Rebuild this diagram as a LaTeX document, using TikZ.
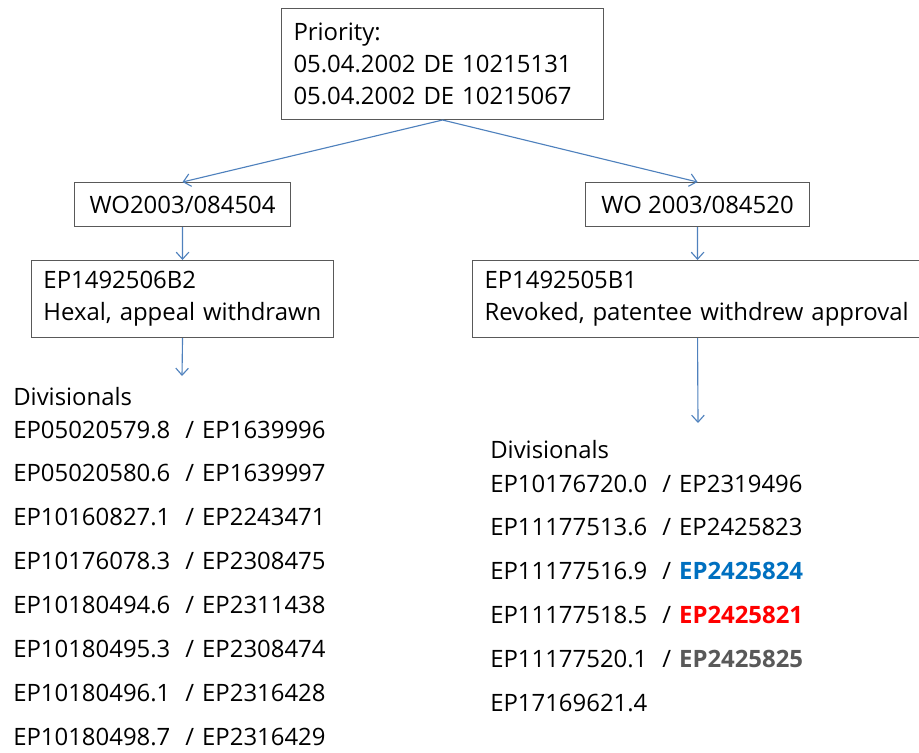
\documentclass[tikz,border=0pt]{standalone}
\usepackage{fontspec}
\setmainfont{Open Sans}
\usetikzlibrary{positioning, arrows.meta}
\definecolor{lineBlue}{HTML}{4F81BD}
\definecolor{borderGray}{HTML}{595959}
\definecolor{textBlue}{HTML}{0070C0}
\definecolor{textRed}{HTML}{FF0000}
\definecolor{textGray}{HTML}{595959}

\begin{document}
\begin{tikzpicture}[
    x=0.025cm, y=-0.025cm,
    font=\fontsize{17}{23}\selectfont,
    >={Straight Barb[length=5pt, width=9pt]},
    box/.style={
        draw=borderGray, line width=0.7pt, anchor=north west
    },
    textBox/.style={box, align=left, inner xsep=0.3cm, inner ysep=0pt},
    idBox/.style={box, align=center, inner sep=0pt, minimum height=1.1cm},
    link/.style={->, draw=lineBlue, line width=0.8pt},
    list/.style={anchor=base west, inner sep=0pt, font=\fontsize{17}{31.2}\selectfont}
]
\useasboundingbox (0,0) rectangle (919,752);

\node[textBox, text width=7.45cm, minimum height=2.775cm] (prio) at (281,8) {Priority:\\05.04.2002 DE 10215131\\05.04.2002 DE 10215067};

\node[idBox, minimum width=5.4cm] (woLeft) at (74,182) {WO2003/084504};
\node[idBox, minimum width=5.6cm] (woRight) at (585,182) {WO 2003/084520};

\node[textBox, text width=6.95cm, minimum height=1.925cm] (epLeft) at (31,260) {EP1492506B2\\Hexal, appeal withdrawn};
\node[textBox, text width=10.65cm, minimum height=1.925cm] (epRight) at (472,260) {EP1492505B1\\Revoked, patentee withdrew approval};

\coordinate (divLeftTop) at (182,376);
\coordinate (divRightTop) at (698,423);

\draw[link] (prio.south) -- (woLeft.north);
\draw[link] (prio.south) -- (woRight.north);
\draw[link] (woLeft.south) -- (epLeft.north);
\draw[link] (woRight.south) -- (epRight.north);
\draw[link] (epLeft.south) -- (divLeftTop);
\draw[link] (epRight.south) -- (divRightTop);

% divisionals, left branch
\node[anchor=base west, inner sep=0pt] (divLeft) at (13,405) {Divisionals};
\node[list] (listLeft) at (13,438) {\begin{tabular}[t]{@{}p{4.3cm}@{}p{0.42cm}@{}l@{}}
EP05020579.8 & / & EP1639996\\
EP05020580.6 & / & EP1639997\\
EP10160827.1 & / & EP2243471\\
EP10176078.3 & / & EP2308475\\
EP10180494.6 & / & EP2311438\\
EP10180495.3 & / & EP2308474\\
EP10180496.1 & / & EP2316428\\
EP10180498.7 & / & EP2316429
\end{tabular}};

% divisionals, right branch
\node[anchor=base west, inner sep=0pt] (divRight) at (490,458) {Divisionals};
\node[list] (listRight) at (490,492) {\begin{tabular}[t]{@{}p{4.3cm}@{}p{0.42cm}@{}l@{}}
EP10176720.0 & / & EP2319496\\
EP11177513.6 & / & EP2425823\\
EP11177516.9 & / & {\bfseries\color{textBlue}EP2425824}\\
EP11177518.5 & / & {\bfseries\color{textRed}EP2425821}\\
EP11177520.1 & / & {\bfseries\color{textGray}EP2425825}\\
EP17169621.4 & & 
\end{tabular}};

\end{tikzpicture}
\end{document}
